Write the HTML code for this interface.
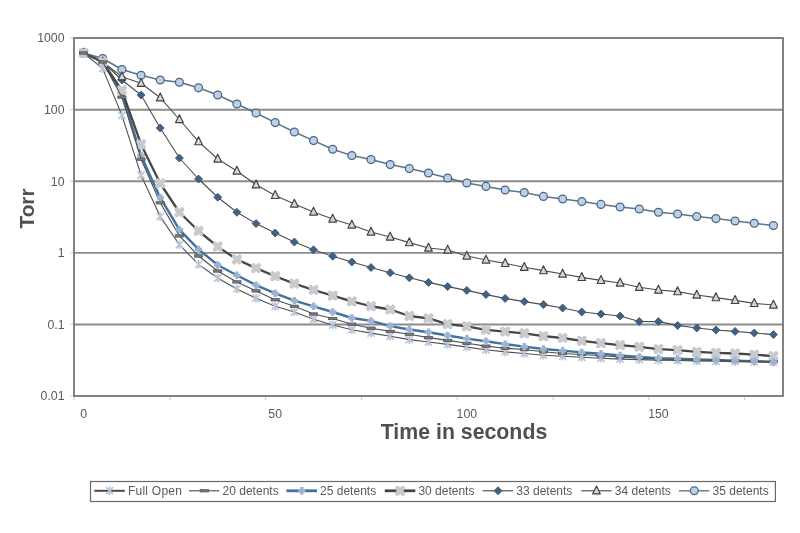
<!DOCTYPE html><html><head><meta charset="utf-8"><style>html,body{margin:0;padding:0;background:#fff;width:800px;height:533px;overflow:hidden}svg{display:block;will-change:transform;filter:blur(0.3px);font-family:"Liberation Sans",sans-serif}</style></head><body>
<svg width="800" height="533" viewBox="0 0 800 533">
<defs>
<g id="mc"><circle r="3.95" fill="#bbd0e9" stroke="#4e6580" stroke-width="1.25"/></g>
<g id="mt"><path d="M0,-4.8 L3.85,3.1 L-3.85,3.1 Z" fill="#d6d6d8" stroke="#404040" stroke-width="1.15" stroke-linejoin="round"/></g>
<g id="md"><path d="M0,-4 L4,0 L0,4 L-4,0 Z" fill="#3f6386" stroke="#36526f" stroke-width="0.8"/></g>
<g id="ms"><path d="M-2.7,-2.7 L2.7,2.7 M2.7,-2.7 L-2.7,2.7" stroke="#c9cacf" stroke-width="4.6" stroke-linecap="round"/></g>
<g id="mp"><path d="M0,-3.7 L0,3.7 M-3.7,0 L3.7,0" stroke="#9cb4d4" stroke-width="3.3"/></g>
<g id="mh"><rect x="-4.1" y="-1.2" width="8.2" height="2.4" fill="#7a7a7a" stroke="#4e4e4e" stroke-width="0.7"/></g>
<g id="mx"><path d="M-3.6,-3.6 L3.6,3.6 M3.6,-3.6 L-3.6,3.6 M0,-4.3 L0,4.3" stroke="#b9c6d8" stroke-width="1.75"/></g>
</defs>
<rect width="800" height="533" fill="#fff"/>
<line x1="74" y1="109.7" x2="783" y2="109.7" stroke="#8c8c8c" stroke-width="1.9"/>
<line x1="74" y1="181.3" x2="783" y2="181.3" stroke="#8c8c8c" stroke-width="1.9"/>
<line x1="74" y1="252.9" x2="783" y2="252.9" stroke="#8c8c8c" stroke-width="1.9"/>
<line x1="74" y1="324.5" x2="783" y2="324.5" stroke="#8c8c8c" stroke-width="1.9"/>
<line x1="70" y1="38" x2="74" y2="38" stroke="#d0d0d0" stroke-width="1"/>
<line x1="70" y1="109.6" x2="74" y2="109.6" stroke="#d0d0d0" stroke-width="1"/>
<line x1="70" y1="181.2" x2="74" y2="181.2" stroke="#d0d0d0" stroke-width="1"/>
<line x1="70" y1="252.8" x2="74" y2="252.8" stroke="#d0d0d0" stroke-width="1"/>
<line x1="70" y1="324.4" x2="74" y2="324.4" stroke="#d0d0d0" stroke-width="1"/>
<line x1="70" y1="396" x2="74" y2="396" stroke="#d0d0d0" stroke-width="1"/>
<line x1="74" y1="396" x2="74" y2="400" stroke="#c8c8c8" stroke-width="1"/>
<line x1="169.81" y1="396" x2="169.81" y2="400" stroke="#c8c8c8" stroke-width="1"/>
<line x1="265.62" y1="396" x2="265.62" y2="400" stroke="#c8c8c8" stroke-width="1"/>
<line x1="361.43" y1="396" x2="361.43" y2="400" stroke="#c8c8c8" stroke-width="1"/>
<line x1="457.24" y1="396" x2="457.24" y2="400" stroke="#c8c8c8" stroke-width="1"/>
<line x1="553.05" y1="396" x2="553.05" y2="400" stroke="#c8c8c8" stroke-width="1"/>
<line x1="648.86" y1="396" x2="648.86" y2="400" stroke="#c8c8c8" stroke-width="1"/>
<line x1="744.68" y1="396" x2="744.68" y2="400" stroke="#c8c8c8" stroke-width="1"/>
<rect x="74" y="38" width="709" height="358" fill="none" stroke="#717171" stroke-width="1.75"/>
<text x="64.5" y="42.3" font-size="12.3" fill="#5a5a5a" text-anchor="end">1000</text>
<text x="64.5" y="113.9" font-size="12.3" fill="#5a5a5a" text-anchor="end">100</text>
<text x="64.5" y="185.5" font-size="12.3" fill="#5a5a5a" text-anchor="end">10</text>
<text x="64.5" y="257.1" font-size="12.3" fill="#5a5a5a" text-anchor="end">1</text>
<text x="64.5" y="328.7" font-size="12.3" fill="#5a5a5a" text-anchor="end">0.1</text>
<text x="64.5" y="400.3" font-size="12.3" fill="#5a5a5a" text-anchor="end">0.01</text>
<text x="83.58" y="417.6" font-size="12.3" fill="#5a5a5a" text-anchor="middle">0</text>
<text x="275.2" y="417.6" font-size="12.3" fill="#5a5a5a" text-anchor="middle">50</text>
<text x="466.82" y="417.6" font-size="12.3" fill="#5a5a5a" text-anchor="middle">100</text>
<text x="658.45" y="417.6" font-size="12.3" fill="#5a5a5a" text-anchor="middle">150</text>
<text x="464" y="439.4" font-size="21.3" font-weight="bold" fill="#4f4f4f" text-anchor="middle">Time in seconds</text>
<text transform="translate(34.2,208.5) rotate(-90)" font-size="20.8" font-weight="bold" fill="#4f4f4f" text-anchor="middle">Torr</text>
<polyline points="83.58,53 102.74,58.5 121.91,69.5 141.07,75.3 160.23,80 179.39,82.25 198.55,87.8 217.72,95 236.88,104 256.04,113 275.2,122.6 294.36,132 313.53,140.6 332.69,149.2 351.85,155.6 371.01,159.6 390.18,164.6 409.34,168.6 428.5,173 447.66,178 466.82,183 485.99,186.4 505.15,190 524.31,192.6 543.47,196.4 562.64,199 581.8,201.6 600.96,204.4 620.12,207 639.28,209 658.45,212.2 677.61,214 696.77,216.6 715.93,218.6 735.09,221 754.26,223.2 773.42,225.6" fill="none" stroke="#5d7389" stroke-width="1.5" stroke-linejoin="round"/>
<use href="#mc" x="83.58" y="53"/>
<use href="#mc" x="102.74" y="58.5"/>
<use href="#mc" x="121.91" y="69.5"/>
<use href="#mc" x="141.07" y="75.3"/>
<use href="#mc" x="160.23" y="80"/>
<use href="#mc" x="179.39" y="82.25"/>
<use href="#mc" x="198.55" y="87.8"/>
<use href="#mc" x="217.72" y="95"/>
<use href="#mc" x="236.88" y="104"/>
<use href="#mc" x="256.04" y="113"/>
<use href="#mc" x="275.2" y="122.6"/>
<use href="#mc" x="294.36" y="132"/>
<use href="#mc" x="313.53" y="140.6"/>
<use href="#mc" x="332.69" y="149.2"/>
<use href="#mc" x="351.85" y="155.6"/>
<use href="#mc" x="371.01" y="159.6"/>
<use href="#mc" x="390.18" y="164.6"/>
<use href="#mc" x="409.34" y="168.6"/>
<use href="#mc" x="428.5" y="173"/>
<use href="#mc" x="447.66" y="178"/>
<use href="#mc" x="466.82" y="183"/>
<use href="#mc" x="485.99" y="186.4"/>
<use href="#mc" x="505.15" y="190"/>
<use href="#mc" x="524.31" y="192.6"/>
<use href="#mc" x="543.47" y="196.4"/>
<use href="#mc" x="562.64" y="199"/>
<use href="#mc" x="581.8" y="201.6"/>
<use href="#mc" x="600.96" y="204.4"/>
<use href="#mc" x="620.12" y="207"/>
<use href="#mc" x="639.28" y="209"/>
<use href="#mc" x="658.45" y="212.2"/>
<use href="#mc" x="677.61" y="214"/>
<use href="#mc" x="696.77" y="216.6"/>
<use href="#mc" x="715.93" y="218.6"/>
<use href="#mc" x="735.09" y="221"/>
<use href="#mc" x="754.26" y="223.2"/>
<use href="#mc" x="773.42" y="225.6"/>
<polyline points="83.58,53 102.74,62 121.91,80 141.07,95 160.23,128 179.39,158 198.55,179 217.72,197.25 236.88,212.25 256.04,223.6 275.2,233 294.36,242 313.53,249.8 332.69,256.2 351.85,262 371.01,267.5 390.18,272.7 409.34,277.8 428.5,282.4 447.66,286.6 466.82,290.4 485.99,294.6 505.15,298.4 524.31,301.6 543.47,304.6 562.64,308 581.8,312 600.96,314 620.12,316 639.28,321.5 658.45,321.6 677.61,325.4 696.77,328 715.93,330 735.09,331.4 754.26,333 773.42,334.6" fill="none" stroke="#4d4d4d" stroke-width="1.1" stroke-linejoin="round"/>
<use href="#md" x="83.58" y="53"/>
<use href="#md" x="102.74" y="62"/>
<use href="#md" x="121.91" y="80"/>
<use href="#md" x="141.07" y="95"/>
<use href="#md" x="160.23" y="128"/>
<use href="#md" x="179.39" y="158"/>
<use href="#md" x="198.55" y="179"/>
<use href="#md" x="217.72" y="197.25"/>
<use href="#md" x="236.88" y="212.25"/>
<use href="#md" x="256.04" y="223.6"/>
<use href="#md" x="275.2" y="233"/>
<use href="#md" x="294.36" y="242"/>
<use href="#md" x="313.53" y="249.8"/>
<use href="#md" x="332.69" y="256.2"/>
<use href="#md" x="351.85" y="262"/>
<use href="#md" x="371.01" y="267.5"/>
<use href="#md" x="390.18" y="272.7"/>
<use href="#md" x="409.34" y="277.8"/>
<use href="#md" x="428.5" y="282.4"/>
<use href="#md" x="447.66" y="286.6"/>
<use href="#md" x="466.82" y="290.4"/>
<use href="#md" x="485.99" y="294.6"/>
<use href="#md" x="505.15" y="298.4"/>
<use href="#md" x="524.31" y="301.6"/>
<use href="#md" x="543.47" y="304.6"/>
<use href="#md" x="562.64" y="308"/>
<use href="#md" x="581.8" y="312"/>
<use href="#md" x="600.96" y="314"/>
<use href="#md" x="620.12" y="316"/>
<use href="#md" x="639.28" y="321.5"/>
<use href="#md" x="658.45" y="321.6"/>
<use href="#md" x="677.61" y="325.4"/>
<use href="#md" x="696.77" y="328"/>
<use href="#md" x="715.93" y="330"/>
<use href="#md" x="735.09" y="331.4"/>
<use href="#md" x="754.26" y="333"/>
<use href="#md" x="773.42" y="334.6"/>
<polyline points="83.58,53 102.74,62 121.91,76.7 141.07,83.3 160.23,97.7 179.39,119.5 198.55,141.6 217.72,159 236.88,171 256.04,184.7 275.2,195.4 294.36,204 313.53,212 332.69,219 351.85,225 371.01,232 390.18,237 409.34,242.6 428.5,248 447.66,250 466.82,256 485.99,260 505.15,263.4 524.31,267.2 543.47,270.6 562.64,274 581.8,277.4 600.96,280.4 620.12,283 639.28,287.3 658.45,290 677.61,291.6 696.77,295 715.93,297.6 735.09,300.4 754.26,303.4 773.42,305" fill="none" stroke="#4d4d4d" stroke-width="1.1" stroke-linejoin="round"/>
<use href="#mt" x="83.58" y="53"/>
<use href="#mt" x="102.74" y="62"/>
<use href="#mt" x="121.91" y="76.7"/>
<use href="#mt" x="141.07" y="83.3"/>
<use href="#mt" x="160.23" y="97.7"/>
<use href="#mt" x="179.39" y="119.5"/>
<use href="#mt" x="198.55" y="141.6"/>
<use href="#mt" x="217.72" y="159"/>
<use href="#mt" x="236.88" y="171"/>
<use href="#mt" x="256.04" y="184.7"/>
<use href="#mt" x="275.2" y="195.4"/>
<use href="#mt" x="294.36" y="204"/>
<use href="#mt" x="313.53" y="212"/>
<use href="#mt" x="332.69" y="219"/>
<use href="#mt" x="351.85" y="225"/>
<use href="#mt" x="371.01" y="232"/>
<use href="#mt" x="390.18" y="237"/>
<use href="#mt" x="409.34" y="242.6"/>
<use href="#mt" x="428.5" y="248"/>
<use href="#mt" x="447.66" y="250"/>
<use href="#mt" x="466.82" y="256"/>
<use href="#mt" x="485.99" y="260"/>
<use href="#mt" x="505.15" y="263.4"/>
<use href="#mt" x="524.31" y="267.2"/>
<use href="#mt" x="543.47" y="270.6"/>
<use href="#mt" x="562.64" y="274"/>
<use href="#mt" x="581.8" y="277.4"/>
<use href="#mt" x="600.96" y="280.4"/>
<use href="#mt" x="620.12" y="283"/>
<use href="#mt" x="639.28" y="287.3"/>
<use href="#mt" x="658.45" y="290"/>
<use href="#mt" x="677.61" y="291.6"/>
<use href="#mt" x="696.77" y="295"/>
<use href="#mt" x="715.93" y="297.6"/>
<use href="#mt" x="735.09" y="300.4"/>
<use href="#mt" x="754.26" y="303.4"/>
<use href="#mt" x="773.42" y="305"/>
<polyline points="83.58,53 102.74,62 121.91,93.5 141.07,155.5 160.23,197.7 179.39,229.7 198.55,249.4 217.72,265 236.88,275.3 256.04,285.2 275.2,293.3 294.36,300.6 313.53,306.3 332.69,312 351.85,318 371.01,320.9 390.18,326.1 409.34,329.5 428.5,332.25 447.66,335.5 466.82,338.6 485.99,341.2 505.15,344.1 524.31,346.6 543.47,349 562.64,350.6 581.8,352.4 600.96,353.8 620.12,355.4 639.28,357 658.45,358.2 677.61,358.7 696.77,359.5 715.93,360 735.09,360.6 754.26,361.2 773.42,361.9" fill="none" stroke="#43719d" stroke-width="2.4" stroke-linejoin="round"/>
<use href="#mp" x="83.58" y="53"/>
<use href="#mp" x="102.74" y="62"/>
<use href="#mp" x="121.91" y="93.5"/>
<use href="#mp" x="141.07" y="155.5"/>
<polyline points="83.58,53 102.74,62 121.91,90.3 141.07,144.4 160.23,183.5 179.39,212.25 198.55,231 217.72,246.6 236.88,259.5 256.04,268.1 275.2,276.2 294.36,283.6 313.53,290 332.69,295.7 351.85,301.4 371.01,306.25 390.18,309.5 409.34,316 428.5,318.4 447.66,324.1 466.82,326.4 485.99,329.8 505.15,331.6 524.31,333.3 543.47,336.2 562.64,338 581.8,340.8 600.96,343.2 620.12,345.2 639.28,346.8 658.45,349.1 677.61,350.2 696.77,351.8 715.93,352.8 735.09,353.5 754.26,354.7 773.42,356.1" fill="none" stroke="#464646" stroke-width="2.3" stroke-linejoin="round"/>
<use href="#ms" x="83.58" y="53"/>
<use href="#ms" x="102.74" y="62"/>
<use href="#ms" x="121.91" y="90.3"/>
<use href="#ms" x="141.07" y="144.4"/>
<use href="#ms" x="160.23" y="183.5"/>
<use href="#ms" x="179.39" y="212.25"/>
<use href="#ms" x="198.55" y="231"/>
<use href="#ms" x="217.72" y="246.6"/>
<use href="#ms" x="236.88" y="259.5"/>
<use href="#ms" x="256.04" y="268.1"/>
<use href="#ms" x="275.2" y="276.2"/>
<use href="#ms" x="294.36" y="283.6"/>
<use href="#ms" x="313.53" y="290"/>
<use href="#ms" x="332.69" y="295.7"/>
<use href="#ms" x="351.85" y="301.4"/>
<use href="#ms" x="371.01" y="306.25"/>
<use href="#ms" x="390.18" y="309.5"/>
<use href="#ms" x="409.34" y="316"/>
<use href="#ms" x="428.5" y="318.4"/>
<use href="#ms" x="447.66" y="324.1"/>
<use href="#ms" x="466.82" y="326.4"/>
<use href="#ms" x="485.99" y="329.8"/>
<use href="#ms" x="505.15" y="331.6"/>
<use href="#ms" x="524.31" y="333.3"/>
<use href="#ms" x="543.47" y="336.2"/>
<use href="#ms" x="562.64" y="338"/>
<use href="#ms" x="581.8" y="340.8"/>
<use href="#ms" x="600.96" y="343.2"/>
<use href="#ms" x="620.12" y="345.2"/>
<use href="#ms" x="639.28" y="346.8"/>
<use href="#ms" x="658.45" y="349.1"/>
<use href="#ms" x="677.61" y="350.2"/>
<use href="#ms" x="696.77" y="351.8"/>
<use href="#ms" x="715.93" y="352.8"/>
<use href="#ms" x="735.09" y="353.5"/>
<use href="#ms" x="754.26" y="354.7"/>
<use href="#ms" x="773.42" y="356.1"/>
<polyline points="83.58,53 102.74,68.6 121.91,115.4 141.07,175.2 160.23,216.6 179.39,244.7 198.55,264.4 217.72,278 236.88,288.9 256.04,298.2 275.2,306.3 294.36,312 313.53,319.3 332.69,325 351.85,329.8 371.01,333.1 390.18,336.3 409.34,339.6 428.5,342 447.66,344.4 466.82,347.1 485.99,349.8 505.15,351.9 524.31,353.5 543.47,355.2 562.64,356.3 581.8,357.3 600.96,358.3 620.12,359.1 639.28,359.6 658.45,360.1 677.61,360.5 696.77,360.9 715.93,361.3 735.09,361.6 754.26,361.9 773.42,362.2" fill="none" stroke="#505050" stroke-width="1.1" stroke-linejoin="round"/>
<use href="#mx" x="83.58" y="53"/>
<use href="#mx" x="102.74" y="68.6"/>
<use href="#mx" x="121.91" y="115.4"/>
<use href="#mx" x="141.07" y="175.2"/>
<use href="#mx" x="160.23" y="216.6"/>
<use href="#mx" x="179.39" y="244.7"/>
<use href="#mx" x="198.55" y="264.4"/>
<use href="#mx" x="217.72" y="278"/>
<use href="#mx" x="236.88" y="288.9"/>
<use href="#mx" x="256.04" y="298.2"/>
<use href="#mx" x="275.2" y="306.3"/>
<use href="#mx" x="294.36" y="312"/>
<use href="#mx" x="313.53" y="319.3"/>
<use href="#mx" x="332.69" y="325"/>
<use href="#mx" x="351.85" y="329.8"/>
<use href="#mx" x="371.01" y="333.1"/>
<use href="#mx" x="390.18" y="336.3"/>
<use href="#mx" x="409.34" y="339.6"/>
<use href="#mx" x="428.5" y="342"/>
<use href="#mx" x="447.66" y="344.4"/>
<use href="#mx" x="466.82" y="347.1"/>
<use href="#mx" x="485.99" y="349.8"/>
<use href="#mx" x="505.15" y="351.9"/>
<use href="#mx" x="524.31" y="353.5"/>
<use href="#mx" x="543.47" y="355.2"/>
<use href="#mx" x="562.64" y="356.3"/>
<use href="#mx" x="581.8" y="357.3"/>
<use href="#mx" x="600.96" y="358.3"/>
<use href="#mx" x="620.12" y="359.1"/>
<use href="#mx" x="639.28" y="359.6"/>
<use href="#mx" x="658.45" y="360.1"/>
<use href="#mx" x="677.61" y="360.5"/>
<use href="#mx" x="696.77" y="360.9"/>
<use href="#mx" x="715.93" y="361.3"/>
<use href="#mx" x="735.09" y="361.6"/>
<use href="#mx" x="754.26" y="361.9"/>
<use href="#mx" x="773.42" y="362.2"/>
<polyline points="83.58,53 102.74,62 121.91,97.2 141.07,159.2 160.23,202.8 179.39,235.9 198.55,256 217.72,271 236.88,281.9 256.04,290.9 275.2,299.8 294.36,306.3 313.53,314 332.69,318.5 351.85,324.2 371.01,328.2 390.18,331.4 409.34,334.2 428.5,337.6 447.66,340.4 466.82,343.3 485.99,346.1 505.15,348.2 524.31,349.5 543.47,351.8 562.64,353.5 581.8,354.5 600.96,355.8 620.12,357 639.28,358.2 658.45,359 677.61,359.5 696.77,360 715.93,360.4 735.09,360.8 754.26,361.2 773.42,361.6" fill="none" stroke="#505050" stroke-width="1.1" stroke-linejoin="round"/>
<use href="#mh" x="83.58" y="53"/>
<use href="#mh" x="102.74" y="62"/>
<use href="#mh" x="121.91" y="97.2"/>
<use href="#mh" x="141.07" y="159.2"/>
<use href="#mh" x="160.23" y="202.8"/>
<use href="#mh" x="179.39" y="235.9"/>
<use href="#mh" x="198.55" y="256"/>
<use href="#mh" x="217.72" y="271"/>
<use href="#mh" x="236.88" y="281.9"/>
<use href="#mh" x="256.04" y="290.9"/>
<use href="#mh" x="275.2" y="299.8"/>
<use href="#mh" x="294.36" y="306.3"/>
<use href="#mh" x="313.53" y="314"/>
<use href="#mh" x="332.69" y="318.5"/>
<use href="#mh" x="351.85" y="324.2"/>
<use href="#mh" x="371.01" y="328.2"/>
<use href="#mh" x="390.18" y="331.4"/>
<use href="#mh" x="409.34" y="334.2"/>
<use href="#mh" x="428.5" y="337.6"/>
<use href="#mh" x="447.66" y="340.4"/>
<use href="#mh" x="466.82" y="343.3"/>
<use href="#mh" x="485.99" y="346.1"/>
<use href="#mh" x="505.15" y="348.2"/>
<use href="#mh" x="524.31" y="349.5"/>
<use href="#mh" x="543.47" y="351.8"/>
<use href="#mh" x="562.64" y="353.5"/>
<use href="#mh" x="581.8" y="354.5"/>
<use href="#mh" x="600.96" y="355.8"/>
<use href="#mh" x="620.12" y="357"/>
<use href="#mh" x="639.28" y="358.2"/>
<use href="#mh" x="658.45" y="359"/>
<use href="#mh" x="677.61" y="359.5"/>
<use href="#mh" x="696.77" y="360"/>
<use href="#mh" x="715.93" y="360.4"/>
<use href="#mh" x="735.09" y="360.8"/>
<use href="#mh" x="754.26" y="361.2"/>
<use href="#mh" x="773.42" y="361.6"/>
<use href="#mp" x="160.23" y="197.7"/>
<use href="#mp" x="179.39" y="229.7"/>
<use href="#mp" x="198.55" y="249.4"/>
<use href="#mp" x="217.72" y="265"/>
<use href="#mp" x="236.88" y="275.3"/>
<use href="#mp" x="256.04" y="285.2"/>
<use href="#mp" x="275.2" y="293.3"/>
<use href="#mp" x="294.36" y="300.6"/>
<use href="#mp" x="313.53" y="306.3"/>
<use href="#mp" x="332.69" y="312"/>
<use href="#mp" x="351.85" y="318"/>
<use href="#mp" x="371.01" y="320.9"/>
<use href="#mp" x="390.18" y="326.1"/>
<use href="#mp" x="409.34" y="329.5"/>
<use href="#mp" x="428.5" y="332.25"/>
<use href="#mp" x="447.66" y="335.5"/>
<use href="#mp" x="466.82" y="338.6"/>
<use href="#mp" x="485.99" y="341.2"/>
<use href="#mp" x="505.15" y="344.1"/>
<use href="#mp" x="524.31" y="346.6"/>
<use href="#mp" x="543.47" y="349"/>
<use href="#mp" x="562.64" y="350.6"/>
<use href="#mp" x="581.8" y="352.4"/>
<use href="#mp" x="600.96" y="353.8"/>
<use href="#mp" x="620.12" y="355.4"/>
<use href="#mp" x="639.28" y="357"/>
<use href="#mp" x="658.45" y="358.2"/>
<use href="#mp" x="677.61" y="358.7"/>
<use href="#mp" x="696.77" y="359.5"/>
<use href="#mp" x="715.93" y="360"/>
<use href="#mp" x="735.09" y="360.6"/>
<use href="#mp" x="754.26" y="361.2"/>
<use href="#mp" x="773.42" y="361.9"/>
<rect x="90.5" y="481.5" width="684.9" height="20" fill="#fff" stroke="#6a6a6a" stroke-width="1.2"/>
<line x1="94.3" y1="490.8" x2="124.8" y2="490.8" stroke="#4a4a4a" stroke-width="2.0"/>
<use href="#mx" x="109.6" y="490.8"/>
<text x="127.9" y="495" font-size="12" fill="#5a5a5a" letter-spacing="0.25">Full Open</text>
<line x1="189" y1="490.8" x2="219.5" y2="490.8" stroke="#4a4a4a" stroke-width="1.1"/>
<use href="#mh" x="204.3" y="490.8"/>
<text x="222.6" y="495" font-size="12" fill="#5a5a5a">20 detents</text>
<line x1="286.5" y1="490.8" x2="317" y2="490.8" stroke="#43709a" stroke-width="2.8"/>
<use href="#mp" x="301.8" y="490.8"/>
<text x="320.1" y="495" font-size="12" fill="#5a5a5a">25 detents</text>
<line x1="384.8" y1="490.8" x2="415.3" y2="490.8" stroke="#444444" stroke-width="2.8"/>
<use href="#ms" x="400.1" y="490.8"/>
<text x="418.4" y="495" font-size="12" fill="#5a5a5a">30 detents</text>
<line x1="482.7" y1="490.8" x2="513.2" y2="490.8" stroke="#454545" stroke-width="1.1"/>
<use href="#md" x="498" y="490.8"/>
<text x="516.3" y="495" font-size="12" fill="#5a5a5a">33 detents</text>
<line x1="581.2" y1="490.8" x2="611.7" y2="490.8" stroke="#454545" stroke-width="1.1"/>
<use href="#mt" x="596.5" y="490.8"/>
<text x="614.8" y="495" font-size="12" fill="#5a5a5a">34 detents</text>
<line x1="679" y1="490.8" x2="709.5" y2="490.8" stroke="#6a84a0" stroke-width="1.5"/>
<use href="#mc" x="694.3" y="490.8"/>
<text x="712.6" y="495" font-size="12" fill="#5a5a5a">35 detents</text>
</svg></body></html>
